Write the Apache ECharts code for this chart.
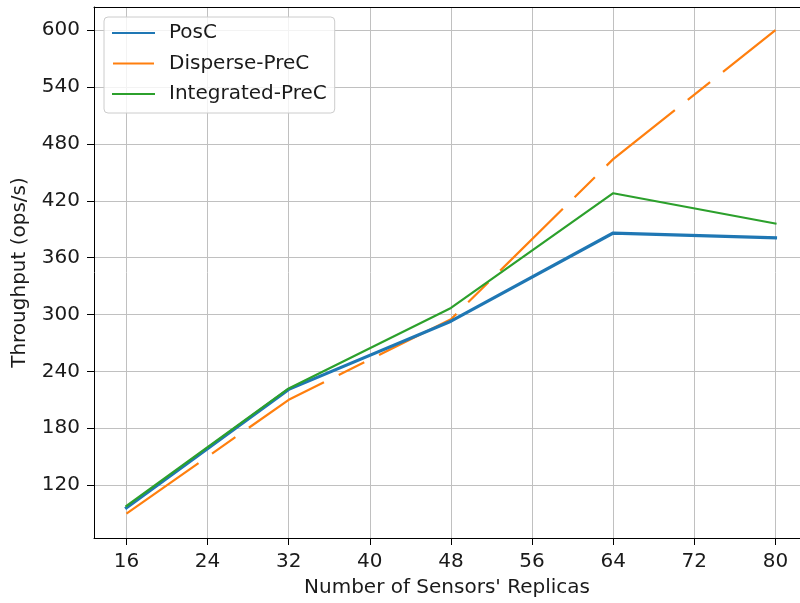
<!DOCTYPE html>
<html>
<head>
<meta charset="utf-8">
<script src="https://cdn.jsdelivr.net/npm/echarts@6/dist/echarts.min.js"></script>
<style>html,body{margin:0;padding:0;background:#fff;}#c{width:800px;height:603px;}</style>
</head>
<body>
<div id="c"></div>
<script>
const replicas = [16, 32, 48, 64, 80];
const posC = [96, 221, 293, 386, 381];
const disperseC = [90, 210, 295, 464, 600];
const integratedC = [98, 222, 307, 428, 396];
const xTicks = [16, 24, 32, 40, 48, 56, 64, 72, 80];
const yTicks = [120, 180, 240, 300, 360, 420, 480, 540, 600];

const FONT = 'DejaVu Sans';
const TXT = '#1a1a1a';
const FS = 20;
const pairs = (ys) => replicas.map((x, i) => [x, ys[i]]);

const chart = echarts.init(document.getElementById('c'), null, {renderer: 'canvas'});
chart.setOption({
  backgroundColor: '#fff',
  animation: false,
  grid: {left: 94, top: 7, right: 0, bottom: 64, show: false},
  legend: {
    orient: 'vertical', left: 104, top: 17,
    padding: [6, 8, 9, 8],
    itemWidth: 41, itemHeight: 14, itemGap: 10.5,
    backgroundColor: 'rgba(255,255,255,0.8)',
    borderColor: '#cccccc', borderWidth: 1, borderRadius: 4,
    itemStyle: {opacity: 0},
    textStyle: {fontFamily: FONT, fontSize: FS, color: TXT, lineHeight: 20, padding: [0, 0, 0, 10]},
    data: ['PosC', 'Disperse-PreC', 'Integrated-PreC']
  },
  xAxis: [{
    type: 'value', min: 12.8, max: 82.42,
    name: "Number of Sensors' Replicas", nameLocation: 'middle', nameGap: 40,
    nameTextStyle: {fontFamily: FONT, fontSize: FS, color: TXT},
    axisLine: {show: true, onZero: false, lineStyle: {color: '#000', width: 1}},
    axisTick: {show: true, length: 7, inside: false, lineStyle: {color: '#000', width: 1}, customValues: xTicks},
    axisLabel: {fontFamily: FONT, fontSize: FS, color: TXT, margin: 14, customValues: xTicks},
    splitLine: {show: true, lineStyle: {color: '#c0c0c0', width: 1}}
  }, {
    type: 'value', position: 'top', min: 12.8, max: 82.42,
    axisLine: {show: true, onZero: false, lineStyle: {color: '#000', width: 1}},
    axisTick: {show: false}, axisLabel: {show: false}, splitLine: {show: false}
  }],
  yAxis: {
    type: 'value', min: 64.2, max: 624.5,
    name: 'Throughput (ops/s)', nameLocation: 'middle', nameGap: 64,
    nameTextStyle: {fontFamily: FONT, fontSize: FS, color: TXT},
    axisLine: {show: true, onZero: false, lineStyle: {color: '#000', width: 1}},
    axisTick: {show: true, length: 7, inside: false, lineStyle: {color: '#000', width: 1}, customValues: yTicks},
    axisLabel: {fontFamily: FONT, fontSize: FS, color: TXT, margin: 14, customValues: yTicks},
    splitLine: {show: true, lineStyle: {color: '#c0c0c0', width: 1}}
  },
  series: [
    {name: 'PosC', type: 'line', data: pairs(posC), symbol: 'none', z: 3,
     lineStyle: {color: '#1f77b4', width: 3.2, cap: 'square'}, itemStyle: {color: '#1f77b4'}},
    {name: 'Disperse-PreC', type: 'line', data: pairs(disperseC), symbol: 'none', z: 2,
     lineStyle: {color: '#ff7f0e', width: 2.2, type: [88, 16.5, 28.5, 16.5], cap: 'butt'}, itemStyle: {color: '#ff7f0e'}},
    {name: 'Integrated-PreC', type: 'line', data: pairs(integratedC), symbol: 'none', z: 4,
     lineStyle: {color: '#2ca02c', width: 2.2, cap: 'square'}, itemStyle: {color: '#2ca02c'}}
  ]
});
</script>
</body>
</html>
